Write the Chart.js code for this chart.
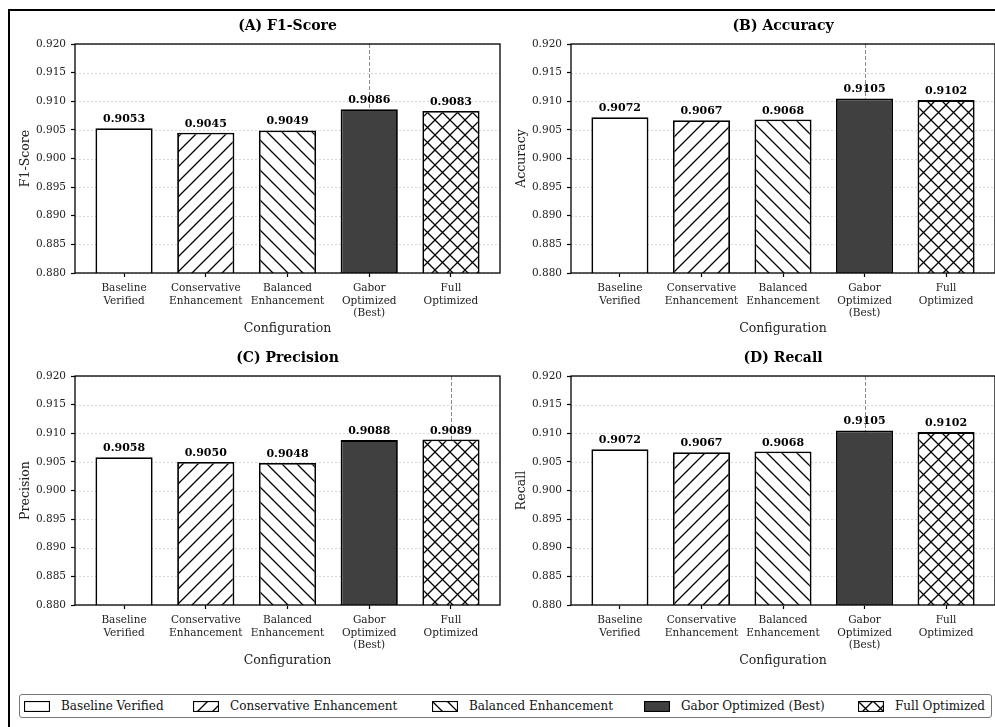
<!DOCTYPE html>
<html>
<head>
<meta charset="utf-8">
<script src="https://cdn.jsdelivr.net/npm/chart.js@4.4.0/dist/chart.umd.min.js"></script>
<style>
  html, body { margin: 0; padding: 0; background: #fff; width: 995px; height: 727px; overflow: hidden; position: relative; font-family: 'DejaVu Serif', serif; }
  .frame { position: absolute; left: 8px; top: 9px; width: 1200px; height: 1200px; border: 2px solid #000; box-sizing: border-box; }
  canvas.panel { position: absolute; }
  .legend { position: absolute; left: 19px; top: 694px; width: 971px; height: 22px; border: 1px solid #777; border-radius: 3px; background: #fff; }
  .item { position: absolute; top: 0; height: 22px; display: flex; align-items: center; font-size: 12px; color: #111; white-space: nowrap; }
  .item canvas { margin-right: 11px; display: block; }
</style>
</head>
<body>
<div class="frame"></div>
<canvas class="panel" id="pA"></canvas>
<canvas class="panel" id="pB"></canvas>
<canvas class="panel" id="pC"></canvas>
<canvas class="panel" id="pD"></canvas>
<div class="legend" id="legend"></div>

<script>
// ---- data ----
const categories = ['Baseline Verified', 'Conservative Enhancement', 'Balanced Enhancement', 'Gabor Optimized (Best)', 'Full Optimized'];
const tickLabels = [['Baseline', 'Verified'], ['Conservative', 'Enhancement'], ['Balanced', 'Enhancement'], ['Gabor', 'Optimized', '(Best)'], ['Full', 'Optimized']];
const f1Score   = [0.9053, 0.9045, 0.9049, 0.9086, 0.9083];
const accuracy  = [0.9072, 0.9067, 0.9068, 0.9105, 0.9102];
const precision = [0.9058, 0.9050, 0.9048, 0.9088, 0.9089];
const recall    = [0.9072, 0.9067, 0.9068, 0.9105, 0.9102];
const yTicks = [0.880, 0.885, 0.890, 0.895, 0.900, 0.905, 0.910, 0.915, 0.920];

// ---- styles ----
const FONT = "'DejaVu Serif', serif";
const fills   = ['#ffffff', '#ffffff', '#ffffff', '#404040', '#ffffff'];
const hatches = ['', '/', '\\', '', 'x'];

Chart.defaults.font.family = FONT;

function makeFill(ctx, i) {
  const kind = hatches[i];
  if (!kind) return fills[i];
  const s = 15;
  const c = document.createElement('canvas');
  c.width = s; c.height = s;
  const g = c.getContext('2d');
  g.fillStyle = fills[i];
  g.fillRect(0, 0, s, s);
  g.strokeStyle = '#000';
  g.lineWidth = 1.3;
  g.beginPath();
  if (kind === '/' || kind === 'x') {
    g.moveTo(-2, s + 2); g.lineTo(s + 2, -2);
    g.moveTo(-2, 2); g.lineTo(2, -2);
    g.moveTo(s - 2, s + 2); g.lineTo(s + 2, s - 2);
  }
  if (kind === '\\' || kind === 'x') {
    g.moveTo(-2, -2); g.lineTo(s + 2, s + 2);
    g.moveTo(s - 2, -2); g.lineTo(s + 2, 2);
    g.moveTo(-2, s - 2); g.lineTo(2, s + 2);
  }
  g.stroke();
  return ctx.createPattern(c, 'repeat');
}

// grid, best-marker, spines, value labels and panel title
const panelDecor = {
  id: 'panelDecor',
  beforeDatasetsDraw(chart, args, opts) {
    const { ctx, chartArea: a, scales: { x, y } } = chart;
    ctx.save();
    ctx.strokeStyle = '#cfcfcf';
    ctx.lineWidth = 0.8;
    ctx.setLineDash([2, 2]);
    y.ticks.forEach(t => {
      const py = Math.round(y.getPixelForValue(t.value)) + 0.5;
      ctx.beginPath(); ctx.moveTo(a.left, py); ctx.lineTo(a.right, py); ctx.stroke();
    });
    const px = Math.round(x.getPixelForValue(opts.best)) + 0.5;
    ctx.strokeStyle = '#8a8a8a';
    ctx.lineWidth = 1;
    ctx.setLineDash([4, 2]);
    ctx.beginPath(); ctx.moveTo(px, a.top); ctx.lineTo(px, a.bottom); ctx.stroke();
    ctx.restore();
  },
  afterDatasetsDraw(chart, args, opts) {
    const { ctx, chartArea: a } = chart;
    ctx.save();
    ctx.strokeStyle = '#000';
    ctx.lineWidth = 1.3;
    ctx.strokeRect(a.left, a.top, a.right - a.left, a.bottom - a.top);

    const meta = chart.getDatasetMeta(0);
    const vals = chart.data.datasets[0].data;
    ctx.fillStyle = '#000';
    ctx.font = 'bold 11px ' + FONT;
    ctx.textAlign = 'center';
    ctx.textBaseline = 'alphabetic';
    meta.data.forEach((el, i) => {
      ctx.fillText(vals[i].y.toFixed(4), el.x, el.y - 6);
    });

    ctx.font = 'bold 14px ' + FONT;
    ctx.textBaseline = 'middle';
    ctx.fillText(opts.title, (a.left + a.right) / 2, a.top - 18);
    ctx.restore();
  }
};

function makePanel(id, left, top, width, height, title, yLabel, values) {
  const cv = document.getElementById(id);
  cv.width = width; cv.height = height;
  cv.style.left = left + 'px'; cv.style.top = top + 'px';
  cv.style.width = width + 'px'; cv.style.height = height + 'px';
  const ctx = cv.getContext('2d');
  const best = values.indexOf(Math.max(...values));
  const tickFont = { family: FONT, size: 10.5 };
  const titleFont = { family: FONT, size: 12.5 };
  return new Chart(ctx, {
    type: 'bar',
    data: {
      datasets: [{
        data: values.map((v, i) => ({ x: i, y: v })),
        backgroundColor: values.map((v, i) => makeFill(ctx, i)),
        borderColor: '#000',
        borderWidth: 1.8,
        borderSkipped: false,
        categoryPercentage: 1,
        barPercentage: 0.7
      }]
    },
    options: {
      responsive: false,
      animation: false,
      devicePixelRatio: 1,
      layout: { padding: { left: 0, top: 44, right: width - 500, bottom: height - 273 - 65 } },
      plugins: {
        legend: { display: false },
        tooltip: { enabled: false },
        panelDecor: { title: title, best: best }
      },
      scales: {
        x: {
          type: 'linear', min: -0.6, max: 4.6, offset: false,
          afterBuildTicks: s => { s.ticks = tickLabels.map((_, i) => ({ value: i })); },
          afterFit: s => { s.height = 65; },
          ticks: { callback: v => tickLabels[v], font: tickFont, color: '#222', padding: 5, maxRotation: 0, autoSkip: false },
          grid: { offset: false, drawOnChartArea: false, drawTicks: true, tickLength: 4, tickColor: '#000', tickWidth: 1.2 },
          border: { display: false },
          title: { display: true, text: 'Configuration', font: titleFont, color: '#222', padding: { top: 0, bottom: 2 } }
        },
        y: {
          min: 0.88, max: 0.92,
          afterBuildTicks: s => { s.ticks = yTicks.map(v => ({ value: v })); },
          afterFit: s => { s.width = 75; },
          ticks: { callback: v => v.toFixed(3), font: tickFont, color: '#222', padding: 5 },
          grid: { drawOnChartArea: false, drawTicks: true, tickLength: 4, tickColor: '#000', tickWidth: 1.2 },
          border: { display: false },
          title: { display: true, text: yLabel, font: titleFont, color: '#222', padding: { top: 18, bottom: 0 } }
        }
      }
    },
    plugins: [panelDecor]
  });
}

makePanel('pA', 0,   0,   510, 350, '(A) F1-Score',  'F1-Score',  f1Score);
makePanel('pB', 496, 0,   499, 350, '(B) Accuracy',  'Accuracy',  accuracy);
makePanel('pC', 0,   332, 510, 350, '(C) Precision', 'Precision', precision);
makePanel('pD', 496, 332, 499, 350, '(D) Recall',    'Recall',    recall);

// shared legend
const legend = document.getElementById('legend');
const itemLeft = [4, 173, 412, 624, 838];
categories.forEach((name, i) => {
  const item = document.createElement('div');
  item.className = 'item';
  item.style.left = itemLeft[i] + 'px';
  const sw = document.createElement('canvas');
  sw.width = 26; sw.height = 11;
  const g = sw.getContext('2d');
  g.fillStyle = makeFill(g, i);
  g.fillRect(0, 0, 26, 11);
  g.strokeStyle = '#000';
  g.lineWidth = 1.2;
  g.strokeRect(0.5, 0.5, 25, 10);
  const label = document.createElement('span');
  label.textContent = name;
  item.appendChild(sw);
  item.appendChild(label);
  legend.appendChild(item);
});
</script>
</body>
</html>
